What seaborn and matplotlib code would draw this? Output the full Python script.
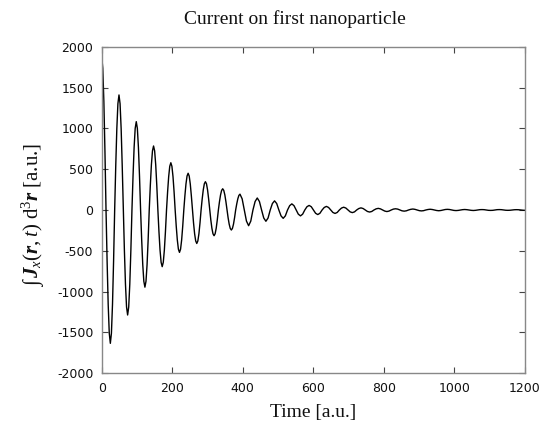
import numpy as np
import pandas as pd
import matplotlib
matplotlib.use("Agg")
import matplotlib.pyplot as plt
import seaborn as sns

# Sampling steps of the trace (a.u.): finer where the oscillation is large
t_step_early = 3.0625
t_start_late = 392.0
t_step_late = 6.125

# Current values (a.u.), t = 0 .. 389
current_early = [
    1880, 1737, 1329, 720, 0, -625, -1155, -1509,
    -1633, -1509, -1155, -625, 0, 539, 996, 1302,
    1409, 1302, 996, 539, 0, -492, -909, -1188,
    -1286, -1188, -909, -492, 0, 414, 765, 1000,
    1082, 1000, 765, 414, 0, -362, -668, -873,
    -945, -873, -668, -362, 0, 300, 554, 724,
    784, 724, 554, 300, 0, -266, -491, -641,
    -694, -641, -491, -266, 0, 222, 409, 535,
    579, 535, 409, 222, 0, -199, -367, -480,
    -519, -480, -367, -199, 0, 172, 318, 416,
    450, 416, 318, 172, 0, -157, -290, -379,
    -410, -379, -290, -157, 0, 133, 245, 321,
    347, 321, 245, 133, 0, -121, -223, -291,
    -315, -291, -223, -121, 0, 100, 184, 240,
    260, 240, 184, 100, 0, -94, -173, -226,
    -245, -226, -173, -94, 0, 74, 137, 179,
]

# Current values (a.u.), t = 392 .. 1200
current_late = [
    194, 137, 0, -136, -192, -136, 0, 104,
    147, 104, 0, -98, -138, -98, 0, 79,
    112, 79, 0, -72, -102, -72, 0, 53,
    75, 53, 0, -51, -72, -51, 0, 40,
    56, 40, 0, -40, -56, -40, 0, 31,
    44, 31, 0, -30, -42, -30, 0, 24,
    34, 24, 0, -23, -32, -23, 0, 18,
    26, 18, 0, -18, -25, -18, 0, 14,
    20, 14, 0, -13, -19, -13, 0, 11,
    15, 11, 0, -10, -14, -10, 0, 8,
    12, 8, 0, -8, -11, -8, 0, 6,
    9, 6, 0, -6, -9, -6, 0, 6,
    8, 6, 0, -5, -7, -5, 0, 4,
    6, 4, 0, -4, -6, -4, 0, 4,
    5, 4, 0, -4, -5, -4, 0, 4,
    5, 4, 0, -3, -4, -3, 0, 3,
    4, 3, 0, -3, -4,
]

time_early = np.arange(len(current_early)) * t_step_early
time_late = t_start_late + np.arange(len(current_late)) * t_step_late

x_ticks = [0, 200, 400, 600, 800, 1000, 1200]
y_ticks = [-2000, -1500, -1000, -500, 0, 500, 1000, 1500, 2000]

title = "Current on first nanoparticle"
x_label = "Time [a.u.]"
y_label = (r"$\int\,\boldsymbol{J}_x(\boldsymbol{r},t)\ "
           r"\mathrm{d}^3\boldsymbol{r}$ [a.u.]")

sns.set_theme(style="ticks")
plt.rcParams["font.family"] = ["DejaVu Sans"]
plt.rcParams["mathtext.fontset"] = "custom"
plt.rcParams["mathtext.rm"] = "Liberation Serif"
plt.rcParams["mathtext.it"] = "Liberation Serif:italic"
plt.rcParams["mathtext.bf"] = "Liberation Serif:bold"
plt.rcParams["mathtext.bfit"] = "Liberation Serif:bold:italic"

df = pd.DataFrame({
    "time": np.concatenate([time_early, time_late]),
    "current": list(current_early) + list(current_late),
})

fig = plt.figure(figsize=(5.42, 4.34), dpi=100)
ax = fig.add_axes([101.7 / 542, (434 - 373.3) / 434, 423.3 / 542, 326.6 / 434])

sns.lineplot(data=df, x="time", y="current", color="black", linewidth=1.0,
             ax=ax, estimator=None)

ax.set_xlim(0, 1200)
ax.set_ylim(-2000, 2000)
ax.set_xticks(x_ticks)
ax.set_yticks(y_ticks)
ax.set_xticklabels([str(v) for v in x_ticks])
ax.set_yticklabels([str(v) for v in y_ticks])
ax.tick_params(direction="in", length=4, width=0.8, color="#444444",
               labelsize=9, top=True, right=True, labelcolor="#111111",
               pad=6)
for s in ax.spines.values():
    s.set_color("#888888")
    s.set_linewidth(1.0)

serif = ["Liberation Serif", "DejaVu Serif"]
ax.set_xlabel(x_label, family=serif, fontsize=14, labelpad=7, color="#111111")
ax.set_ylabel(y_label, family=serif, fontsize=15, color="#111111")
ax.yaxis.set_label_coords(-0.13, 0.485)
fig.text(295 / 542, 1 - 19 / 434, title, family=serif, fontsize=14,
         ha="center", va="center", color="#111111")

fig.savefig("out.png", dpi=100)
